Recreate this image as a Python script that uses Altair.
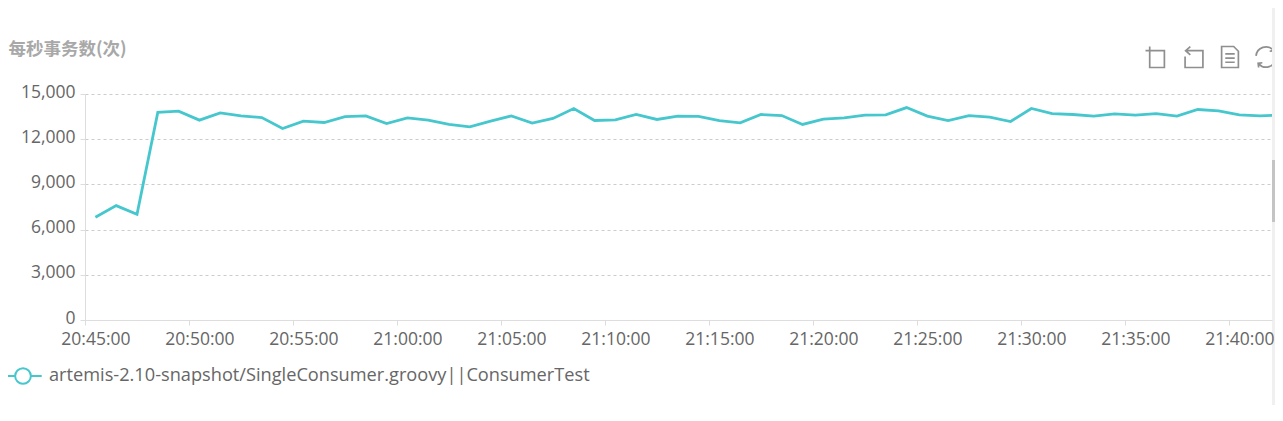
import json
import altair as alt
import pandas as pd

series_name = "artemis-2.10-snapshot/SingleConsumer.groovy||ConsumerTest"
axis_title = "每秒事务数(次)"
tps_values = [
    6820, 7590, 7020, 13780, 13860, 13265, 13750, 13550, 13440, 12710,
    13200, 13110, 13500, 13550, 13040, 13420, 13265, 12980, 12820, 13200,
    13550, 13065, 13375, 14040, 13240, 13285, 13640, 13310, 13530, 13510,
    13240, 13090, 13640, 13570, 12980, 13330, 13420, 13600, 13620, 14100,
    13530, 13240, 13570, 13460, 13175, 14040, 13700, 13640, 13530, 13680,
    13600, 13700, 13530, 13970, 13880, 13620, 13550, 13600,
]
minute_index = list(range(len(tps_values)))
tick_labels = [
    "20:45:00", "20:50:00", "20:55:00", "21:00:00", "21:05:00", "21:10:00",
    "21:15:00", "21:20:00", "21:25:00", "21:30:00", "21:35:00", "21:40:00",
]
tick_positions = [i * 5 - 0.5 for i in range(len(tick_labels))]
y_ticks = [0, 3000, 6000, 9000, 12000, 15000]

LINE = "#45c7cd"
ICON = "#8f8f8f"
FONT = "Open Sans"
W, H = 1187, 226

df = pd.DataFrame({"minute": minute_index, "tps": tps_values, "series": series_name})
one = pd.DataFrame({"k": [0]})

label_expr = (
    json.dumps(tick_labels, ensure_ascii=False)
    + "[round((datum.value + 0.5) / 5)]"
)

line = (
    alt.Chart(df)
    .mark_line(strokeWidth=2.8, clip=True, interpolate="linear")
    .encode(
        x=alt.X(
            "minute:Q",
            scale=alt.Scale(domain=[-0.5, 56.57], nice=False, zero=False),
            axis=alt.Axis(
                title=None, values=tick_positions, labelExpr=label_expr,
                labelOffset=10.4, labelFont=FONT, labelFontSize=17.5,
                labelColor="#666666", labelPadding=5, labelFlush=False,
                labelBound=False, labelOverlap=False,
                tickColor="#dddddd", tickSize=5, domainColor="#dddddd",
                grid=False, zindex=1,
            ),
        ),
        y=alt.Y(
            "tps:Q",
            scale=alt.Scale(domain=[0, 15000], nice=False),
            axis=alt.Axis(
                title=axis_title, titleAngle=0, titleAlign="left",
                titleBaseline="middle", titleX=-77, titleY=-45,
                titleFont="Noto Sans CJK SC", titleFontSize=17.5,
                titleFontWeight="bold", titleColor="#a8a8a8",
                values=y_ticks, format=",d", labelFont=FONT,
                labelFontSize=17.5, labelColor="#666666", labelPadding=5,
                labelOffset=-2, labelBound=False,
                tickColor="#dddddd", tickSize=5, domainColor="#dddddd",
                grid=True, gridColor="#cccccc", gridDash=[3, 3], gridWidth=1,
            ),
        ),
        color=alt.Color(
            "series:N",
            scale=alt.Scale(range=[LINE]),
            legend=alt.Legend(
                title=None, orient="none", legendX=-82, legendY=262,
                symbolType="M-1,0L-0.42,0M0.42,0L1,0M0.42,0A0.42,0.42,0,1,1,-0.42,0A0.42,0.42,0,1,1,0.42,0",
                symbolSize=1400, symbolStrokeWidth=2, symbolFillColor="transparent",
                labelFont=FONT, labelFontSize=18.2, labelColor="#666666",
                labelLimit=700, labelOffset=6,
            ),
        ),
    )
)

icon_paths = [
    "M-1,-0.6L0.8,-0.6L0.8,1L-0.6,1L-0.6,-1",
    "M-0.35,-1L-0.8,-0.6L-0.35,-0.2M-0.8,-0.6L0.85,-0.6L0.85,1L-0.85,1L-0.85,-0.05",
    "M-0.8,-1L0.35,-1L0.8,-0.55L0.8,1L-0.8,1ZM-0.45,-0.3L0.45,-0.3M-0.45,0.1L0.45,0.1M-0.45,0.5L0.45,0.5",
    "M-0.95,-0.1A0.95,0.95,0,0,1,0.7,-0.65M0.95,0.1A0.95,0.95,0,0,1,-0.7,0.65M0.7,-1L0.75,-0.6L0.35,-0.55M-0.7,1L-0.75,0.6L-0.35,0.55",
]
icon_x = [1071, 1109, 1145, 1181]
icons = [
    alt.Chart(one)
    .mark_point(shape=p, size=440, filled=False, stroke=ICON, strokeWidth=1.7, opacity=1)
    .encode(x=alt.value(ix), y=alt.value(-37))
    for p, ix in zip(icon_paths, icon_x)
]

scroll_track = alt.Chart(one).mark_rect(color="#f0f0f0").encode(
    x=alt.value(1187), x2=alt.value(1190), y=alt.value(-86), y2=alt.value(311)
)
scroll_thumb = alt.Chart(one).mark_rect(color="#c4c4c4").encode(
    x=alt.value(1187), x2=alt.value(1190), y=alt.value(66), y2=alt.value(128)
)

chart = (
    alt.layer(line, *icons, scroll_track, scroll_thumb)
    .properties(
        width=W, height=H, background="white",
        autosize=alt.AutoSizeParams(type="none"),
        padding={"left": 77, "top": 86, "right": 3, "bottom": 91},
    )
    .configure_view(stroke=None)
)

chart.save("out.html", embed_options={"renderer": "svg", "actions": False})
